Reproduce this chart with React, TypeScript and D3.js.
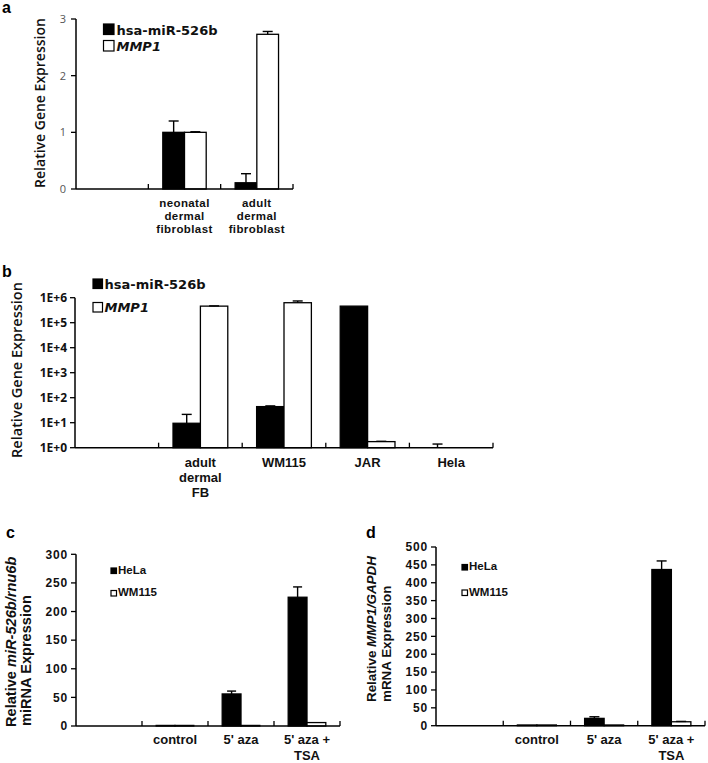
import React from "react";
import * as d3 from "d3";

// ---------- Panel a ----------
const aCategories = ["", "neonatal\ndermal\nfibroblast", "adult\ndermal\nfibroblast"];
const aSeriesNames = ["hsa-miR-526b", "MMP1"];
const aMiR = [null, 1.0, 0.11];
const aMiRErr = [0, 0.2, 0.16];
const aMMP1 = [null, 1.0, 2.73];
const aMMP1Err = [0, 0.01, 0.05];
const aTicks = [0, 1, 2, 3];
const aTickLabels = ["0", "1", "2", "3"];

// ---------- Panel b ----------
const bCategories = ["", "adult\ndermal\nFB", "WM115", "JAR", "Hela"];
const bSeriesNames = ["hsa-miR-526b", "MMP1"];
const bMiR = [null, 9.5, 44, 460000, 1];
const bMiRErr = [0, 12, 3, 0, 0.4];
const bMMP1 = [null, 460000, 630000, 1.75, 1];
const bMMP1Err = [0, 10000, 110000, 0.05, 0];
const bTicks = [1, 10, 100, 1000, 10000, 100000, 1000000];
const bTickLabels = ["1E+0", "1E+1", "1E+2", "1E+3", "1E+4", "1E+5", "1E+6"];

// ---------- Panel c ----------
const cCategories = ["", "control", "5' aza", "5' aza +\nTSA"];
const cdSeriesNames = ["HeLa", "WM115"];
const cHeLa = [null, 1, 56, 225];
const cHeLaErr = [0, 0, 5, 18];
const cWM115 = [null, 1, 1, 6];
const cWM115Err = [0, 0, 0, 0];
const cTicks = [0, 50, 100, 150, 200, 250, 300];
const cTickLabels = ["0", "50", "100", "150", "200", "250", "300"];

// ---------- Panel d ----------
const dCategories = ["", "control", "5' aza", "5' aza +\nTSA"];
const dHeLa = [null, 2, 20.5, 437];
const dHeLaErr = [0, 0, 4.5, 24];
const dWM115 = [null, 2, 2, 11];
const dWM115Err = [0, 0, 0, 1];
const dTicks = [0, 50, 100, 150, 200, 250, 300, 350, 400, 450, 500];
const dTickLabels = ["0", "50", "100", "150", "200", "250", "300", "350", "400", "450", "500"];

const OPEN = "'Open Sans', 'DejaVu Sans', sans-serif";
const DEJAVU = "'DejaVu Sans', Verdana, sans-serif";
const ARIAL = "'Liberation Sans', Arial, sans-serif";

type Series = { name: string; values: (number | null)[]; errs: number[]; fill: string };

type PanelProps = {
  x0: number;
  x1: number;
  yScale: any;
  baseValue: number;
  ticks: number[];
  tickLabels: string[];
  tickFont: any;
  tickGap: number;
  categories: string[];
  labelBaseline: number;
  labelSpacing: number;
  labelFont: any;
  series: Series[];
  groupFrac: number;
  capW: number;
};

function Panel(p: PanelProps) {
  const x = d3.scaleBand<string>().domain(p.categories).range([p.x0, p.x1]).padding(0);
  const bw = x.bandwidth();
  const gw = bw * p.groupFrac;
  const inner = d3
    .scaleBand<string>()
    .domain(p.series.map((s) => s.name))
    .range([-gw / 2, gw / 2])
    .padding(0);
  const base = p.yScale(p.baseValue);
  const domain = p.yScale.domain();
  const top = p.yScale(domain[1]);
  return (
    <g>
      {/* bars */}
      {p.categories.map((c, i) =>
        p.series.map((s) => {
          const v = s.values[i];
          if (v === null || v === undefined) return null;
          const cx = (x(c) as number) + bw / 2;
          const bx = cx + (inner(s.name) as number);
          const y = p.yScale(v);
          return (
            <rect
              key={c + s.name}
              x={bx}
              y={y}
              width={inner.bandwidth()}
              height={Math.max(0, base - y)}
              fill={s.fill}
              stroke="#000"
              strokeWidth={1.3}
            />
          );
        })
      )}
      {/* error bars */}
      {p.categories.map((c, i) =>
        p.series.map((s) => {
          const v = s.values[i];
          const e = s.errs[i];
          if (v === null || v === undefined || !e) return null;
          const cx = (x(c) as number) + bw / 2 + (inner(s.name) as number) + inner.bandwidth() / 2;
          const y1 = p.yScale(v);
          const y2 = p.yScale(v + e);
          return (
            <g key={"e" + c + s.name} stroke="#000" strokeWidth={1.4}>
              <line x1={cx} x2={cx} y1={y1} y2={y2} />
              <line x1={cx - p.capW / 2} x2={cx + p.capW / 2} y1={y2} y2={y2} />
            </g>
          );
        })
      )}
      {/* y axis */}
      <line x1={p.x0} x2={p.x0} y1={top} y2={base} stroke="#000" strokeWidth={1.5} />
      {p.ticks.map((t, i) => (
        <g key={"t" + t}>
          <line x1={p.x0 - 5} x2={p.x0} y1={p.yScale(t)} y2={p.yScale(t)} stroke="#000" strokeWidth={1.3} />
          <text
            x={p.x0 - p.tickGap}
            y={p.yScale(t)}
            dy="0.35em"
            textAnchor="end"
            {...p.tickFont}
          >
            {p.tickLabels[i]}
          </text>
        </g>
      ))}
      {/* x axis */}
      <line x1={p.x0} x2={p.x1} y1={base} y2={base} stroke="#000" strokeWidth={1.5} />
      {p.categories.map((c) => {
        const bx = (x(c) as number) + bw;
        return <line key={"xt" + c} x1={bx} x2={bx} y1={base - 5} y2={base} stroke="#000" strokeWidth={1.3} />;
      })}
      {p.categories.map((c) => {
        const cx = (x(c) as number) + bw / 2;
        return c
          .split("\n")
          .map((line, j) => (
            <text
              key={"l" + c + j}
              x={cx}
              y={p.labelBaseline + j * p.labelSpacing}
              textAnchor="middle"
              {...p.labelFont}
            >
              {line}
            </text>
          ));
      })}
    </g>
  );
}

function LegendItem({ x, y, size, fill, label, font, gap, italic }: any) {
  return (
    <g>
      <rect x={x} y={y} width={size} height={size} fill={fill} stroke="#000" strokeWidth={1.2} />
      <text x={x + size + gap} y={y + size} {...font} fontStyle={italic ? "italic" : "normal"}>
        {label}
      </text>
    </g>
  );
}

export default function App() {
  const yA = d3.scaleLinear().domain([0, 3]).range([189, 19]);
  const yB = d3.scaleLog().domain([1, 1000000]).range([447.7, 297.7]);
  const yC = d3.scaleLinear().domain([0, 300]).range([726, 554.3]);
  const yD = d3.scaleLinear().domain([0, 500]).range([725.7, 547]);

  const catFont = { fontFamily: ARIAL, fontWeight: 700, fontSize: 13, fill: "#111" };
  const aCatFont = { fontFamily: ARIAL, fontWeight: 700, fontSize: 11.5, letterSpacing: 0.4, fill: "#111" };
  const cdTick = { fontFamily: ARIAL, fontWeight: 700, fontSize: 12, letterSpacing: 0.8, fill: "#111" };
  const abLegend = { fontFamily: DEJAVU, fontWeight: 700, fontSize: 13, fill: "#111" };

  return (
    <svg
      width={708}
      height={763}
      style={{ position: "absolute", left: 0, top: 0, background: "#fff" }}
      xmlns="http://www.w3.org/2000/svg"
    >
      <rect width={708} height={763} fill="#fff" />

      {/* ===== a ===== */}
      <text x={2} y={13} fontFamily={ARIAL} fontWeight={700} fontSize={16}>a</text>
      <text
        transform="translate(45,103) rotate(-90)"
        textAnchor="middle"
        fontFamily={OPEN}
        fontWeight={600}
        fontSize={14}
        fill="#111"
      >
        Relative Gene Expression
      </text>
      <Panel
        x0={76}
        x1={293}
        yScale={yA}
        baseValue={0}
        ticks={aTicks}
        tickLabels={aTickLabels}
        tickFont={{ fontFamily: OPEN, fontSize: 11, fill: "#555" }}
        tickGap={10}
        categories={aCategories}
        labelBaseline={206.5}
        labelSpacing={13.4}
        labelFont={aCatFont}
        series={[
          { name: aSeriesNames[0], values: aMiR, errs: aMiRErr, fill: "#000" },
          { name: aSeriesNames[1], values: aMMP1, errs: aMMP1Err, fill: "#fff" },
        ]}
        groupFrac={0.6}
        capW={10}
      />
      <LegendItem x={103.5} y={24} size={10.5} fill="#000" label={aSeriesNames[0]} gap={2.5} font={abLegend} />
      <LegendItem x={103.5} y={40.5} size={10.5} fill="#fff" label={aSeriesNames[1]} gap={2.5} italic font={abLegend} />

      {/* ===== b ===== */}
      <text x={2} y={277} fontFamily={ARIAL} fontWeight={700} fontSize={16}>b</text>
      <text
        transform="translate(22,370) rotate(-90)"
        textAnchor="middle"
        fontFamily={OPEN}
        fontWeight={600}
        fontSize={14.5}
        fill="#111"
      >
        Relative Gene Expression
      </text>
      <Panel
        x0={75}
        x1={493}
        yScale={yB}
        baseValue={1}
        ticks={bTicks}
        tickLabels={bTickLabels}
        tickFont={{ fontFamily: OPEN, fontWeight: 700, fontSize: 12, fill: "#111" }}
        tickGap={8}
        categories={bCategories}
        labelBaseline={467}
        labelSpacing={15}
        labelFont={catFont}
        series={[
          { name: bSeriesNames[0], values: bMiR, errs: bMiRErr, fill: "#000" },
          { name: bSeriesNames[1], values: bMMP1, errs: bMMP1Err, fill: "#fff" },
        ]}
        groupFrac={0.655}
        capW={10}
      />
      <LegendItem x={93} y={279} size={9.5} fill="#000" label={bSeriesNames[0]} gap={2} font={abLegend} />
      <LegendItem x={93} y={302.5} size={9.5} fill="#fff" label={bSeriesNames[1]} gap={2} italic font={abLegend} />

      {/* ===== c ===== */}
      <text x={6} y={538} fontFamily={ARIAL} fontWeight={700} fontSize={16}>c</text>
      <text transform="translate(15.5,727) rotate(-90)" fontFamily={ARIAL} fontWeight={700} fontSize={14.6} fill="#111">
        Relative <tspan fontStyle="italic">miR-526b/rnu6b</tspan>
      </text>
      <text transform="translate(30.5,726) rotate(-90)" fontFamily={ARIAL} fontWeight={700} fontSize={14.6} fill="#111">
        miRNA Expression
      </text>
      <Panel
        x0={76}
        x1={340}
        yScale={yC}
        baseValue={0}
        ticks={cTicks}
        tickLabels={cTickLabels}
        tickFont={cdTick}
        tickGap={8}
        categories={cCategories}
        labelBaseline={744}
        labelSpacing={15.5}
        labelFont={catFont}
        series={[
          { name: cdSeriesNames[0], values: cHeLa, errs: cHeLaErr, fill: "#000" },
          { name: cdSeriesNames[1], values: cWM115, errs: cWM115Err, fill: "#fff" },
        ]}
        groupFrac={0.57}
        capW={9}
      />
      <LegendItem x={111} y={568} size={5.5} fill="#000" label={cdSeriesNames[0]} gap={1.5}
        font={{ fontFamily: ARIAL, fontWeight: 700, fontSize: 11.5, fill: "#111" }} />
      <LegendItem x={111} y={590.5} size={5.5} fill="#fff" label={cdSeriesNames[1]} gap={1.5}
        font={{ fontFamily: ARIAL, fontWeight: 700, fontSize: 11.5, fill: "#111" }} />

      {/* ===== d ===== */}
      <text x={366} y={538} fontFamily={ARIAL} fontWeight={700} fontSize={16}>d</text>
      <text transform="translate(375.5,702) rotate(-90)" fontFamily={ARIAL} fontWeight={700} fontSize={13.4} fill="#111">
        Relative <tspan fontStyle="italic">MMP1/GAPDH</tspan>
      </text>
      <text transform="translate(391,702) rotate(-90)" fontFamily={ARIAL} fontWeight={700} fontSize={13.4} fill="#111">
        mRNA Expression
      </text>
      <Panel
        x0={436}
        x1={705}
        yScale={yD}
        baseValue={0}
        ticks={dTicks}
        tickLabels={dTickLabels}
        tickFont={cdTick}
        tickGap={8}
        categories={dCategories}
        labelBaseline={744}
        labelSpacing={15.5}
        labelFont={catFont}
        series={[
          { name: cdSeriesNames[0], values: dHeLa, errs: dHeLaErr, fill: "#000" },
          { name: cdSeriesNames[1], values: dWM115, errs: dWM115Err, fill: "#fff" },
        ]}
        groupFrac={0.58}
        capW={10}
      />
      <LegendItem x={462} y={564.5} size={5.5} fill="#000" label={cdSeriesNames[0]} gap={1.5}
        font={{ fontFamily: ARIAL, fontWeight: 700, fontSize: 11.5, fill: "#111" }} />
      <LegendItem x={462} y={590} size={5.5} fill="#fff" label={cdSeriesNames[1]} gap={1.5}
        font={{ fontFamily: ARIAL, fontWeight: 700, fontSize: 11.5, fill: "#111" }} />
    </svg>
  );
}
